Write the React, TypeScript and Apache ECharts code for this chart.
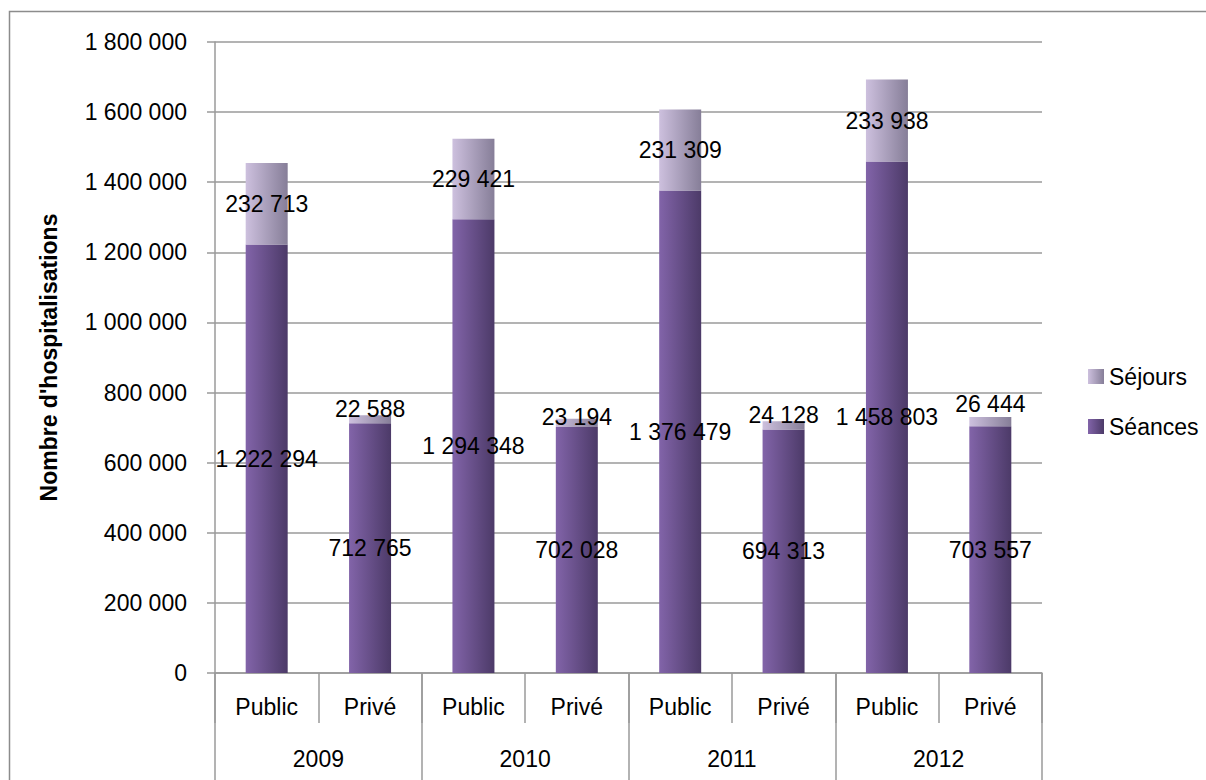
import React, { useEffect, useRef } from "react";
import * as echarts from "echarts";

const categories = ["Public", "Privé", "Public", "Privé", "Public", "Privé", "Public", "Privé"];
const years = ["2009", "2010", "2011", "2012"];
const seances = [1222294, 712765, 1294348, 702028, 1376479, 694313, 1458803, 703557];
const sejours = [232713, 22588, 229421, 23194, 231309, 24128, 233938, 26444];
const yTicks = { min: 0, max: 1800000, interval: 200000 };

// label vertical nudges (style only)
const sejoursLabelNudge = [0, -10, 0, -6, 0, -10, 0, -18];

const FONT = "Liberation Sans";
const FS = 23;

function fmt(v: number): string {
  return String(Math.round(v)).replace(/\B(?=(\d{3})+(?!\d))/g, " ");
}

export default function App() {
  const ref = useRef<HTMLDivElement>(null);
  useEffect(() => {
    if (!ref.current) return;
    const chart = echarts.init(ref.current, null, { renderer: "svg" });
    const gridColor = "#9a9a9a";
    const seancesGrad = new echarts.graphic.LinearGradient(0, 0, 1, 0, [
      { offset: 0, color: "#8264a9" },
      { offset: 1, color: "#4c3a68" },
    ]);
    const sejoursGrad = new echarts.graphic.LinearGradient(0, 0, 1, 0, [
      { offset: 0, color: "#cdc0de" },
      { offset: 1, color: "#867e98" },
    ]);
    chart.setOption({
      animation: false,
      textStyle: { fontFamily: FONT },
      graphic: [
        {
          type: "rect",
          shape: { x: 9.5, y: 11.5, width: 1300, height: 900 },
          style: { fill: "none", stroke: "#8c8c8c", lineWidth: 1.5 },
          silent: true,
          z: -10,
        },
      ],
      grid: { left: 215, right: 164, top: 42, bottom: 107, containLabel: false },
      legend: {
        orient: "vertical",
        left: 1083,
        top: 360,
        itemWidth: 16,
        itemHeight: 15,
        itemGap: 27,
        icon: "rect",
        data: ["Séjours", "Séances"],
        textStyle: { fontFamily: FONT, fontSize: FS, color: "#000", lineHeight: 22 },
      },
      xAxis: [
        {
          type: "category",
          data: categories,
          position: "bottom",
          axisLine: { show: true, lineStyle: { color: gridColor, width: 1.5 } },
          axisTick: { show: true, interval: 0, length: 50, alignWithLabel: false, lineStyle: { color: gridColor, width: 1.5 } },
          axisLabel: { interval: 0, margin: 22, fontSize: FS, color: "#000", fontFamily: FONT },
        },
        {
          type: "category",
          data: years,
          position: "bottom",
          offset: 0,
          axisLine: { show: false },
          axisTick: { show: true, interval: 0, length: 107, lineStyle: { color: gridColor, width: 1.5 } },
          axisLabel: { interval: 0, margin: 74, fontSize: FS, color: "#000", fontFamily: FONT },
          splitLine: { show: false },
        },
      ],
      yAxis: {
        type: "value",
        min: yTicks.min,
        max: yTicks.max,
        interval: yTicks.interval,
        name: "Nombre d'hospitalisations",
        nameLocation: "middle",
        nameGap: 155,
        nameRotate: 90,
        nameTextStyle: { fontFamily: FONT, fontSize: 23, fontWeight: "bold", color: "#000" },
        axisLine: { show: true, lineStyle: { color: gridColor, width: 1.5 } },
        axisTick: { show: true, length: 8, lineStyle: { color: gridColor, width: 1.5 } },
        axisLabel: { margin: 28, fontSize: FS, color: "#000", fontFamily: FONT, formatter: (v: number) => fmt(v) },
        splitLine: { show: true, lineStyle: { color: gridColor, width: 1.5 } },
      },
      series: [
        {
          name: "Séances",
          type: "bar",
          stack: "total",
          xAxisIndex: 0,
          barWidth: 42,
          itemStyle: { color: seancesGrad },
          label: {
            show: true,
            position: "inside",
            color: "#000",
            fontSize: FS,
            fontFamily: FONT,
            formatter: (p: any) => fmt(p.value),
          },
          data: seances,
        },
        {
          name: "Séjours",
          type: "bar",
          stack: "total",
          xAxisIndex: 0,
          barWidth: 42,
          itemStyle: { color: sejoursGrad },
          label: {
            show: true,
            position: "inside",
            color: "#000",
            fontSize: FS,
            fontFamily: FONT,
            formatter: (p: any) => fmt(p.value),
          },
          data: sejours.map((v, i) => ({
            value: v,
            label: { offset: [0, sejoursLabelNudge[i]] },
          })),
        },
      ],
    });
    return () => chart.dispose();
  }, []);
  return (
    <div
      ref={ref}
      style={{ position: "fixed", left: 0, top: 0, width: 1206, height: 780, background: "#fff" }}
    />
  );
}
